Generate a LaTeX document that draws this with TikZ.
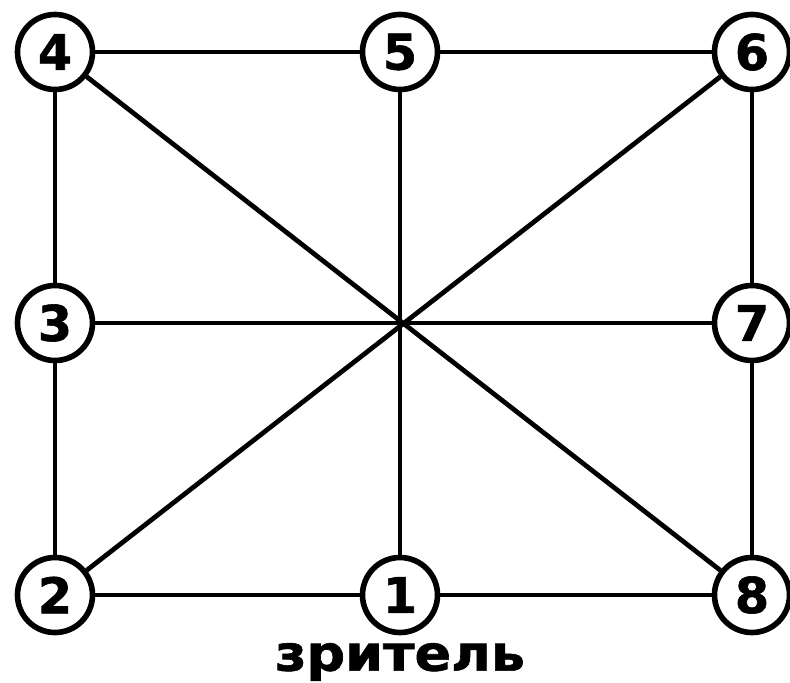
\documentclass[tikz,border=0pt]{standalone}
\usepackage{fontspec}
\setmainfont{DejaVu Sans}[BoldFeatures={FakeBold=1.2}]
\usetikzlibrary{positioning}
\tikzset{
  seat/.style={circle,draw=black,line width=3.2pt,fill=white,inner sep=0pt,
    minimum size=1.5cm,font=\fontsize{28}{28}\selectfont\bfseries},
  link/.style={line width=2.7pt,draw=black}
}

\begin{document}
\begin{tikzpicture}
  \useasboundingbox[fill=white] (0,0) rectangle (15.8,13.64);

  % seats
  \node[seat] (n4) at (1.1,12.6) {4};
  \node[seat] (n5) at (8.0,12.6) {5};
  \node[seat] (n6) at (15.04,12.6) {6};
  \node[seat] (n3) at (1.1,7.18) {3};
  \node[seat] (n7) at (15.04,7.18) {7};
  \node[seat] (n2) at (1.1,1.74) {2};
  \node[seat] (n1) at (8.0,1.74) {1};
  \node[seat] (n8) at (15.04,1.74) {8};

  % frame and star
  \foreach \a/\b in {n4/n5,n5/n6,n4/n3,n3/n2,n6/n7,n7/n8,n2/n1,n1/n8,
                     n4/n8,n6/n2,n5/n1,n3/n7}{
    \draw[link] (\a) -- (\b);
  }

  % viewer
  \node[font=\fontsize{28}{28}\selectfont\bfseries,xscale=1.1] (viewer) at (8.0,0.4) {зритель};

\end{tikzpicture}
\end{document}
